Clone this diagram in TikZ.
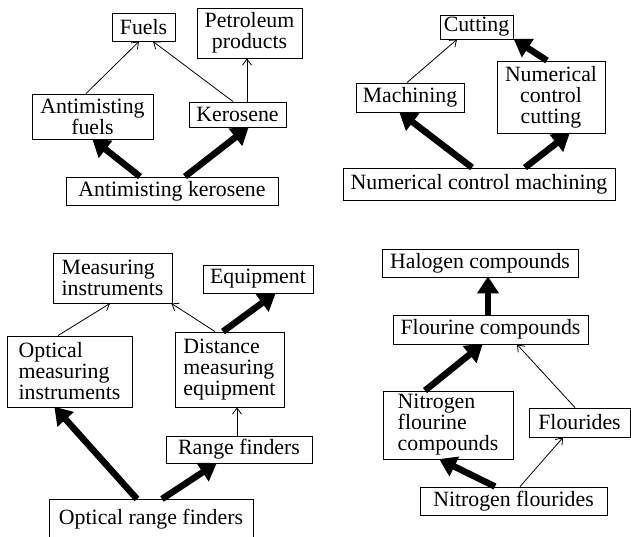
\documentclass[tikz,border=0pt]{standalone}
\usepackage{fontspec}
\setmainfont{Liberation Serif}
\usetikzlibrary{arrows.meta}
\newcommand{\boxfont}{\fontsize{21.8pt}{21pt}\selectfont}
\tikzset{
  box/.style={draw, line width=0.9pt, inner sep=0pt, font=\boxfont},
  thin/.style={line width=0.8pt, -{Straight Barb[length=6pt,width=9pt,line width=0.8pt]}},
  heavy/.style={line width=6.5pt, -{Triangle[length=17pt,width=21pt]}, shorten >=-1pt},
}
\begin{document}
\begin{tikzpicture}[x=1pt,y=-1pt]
\useasboundingbox (0,0) rectangle (631,536);
% Panel 1
\node[box, minimum width=63pt, minimum height=28pt] (fuels) at (143.5,27) {Fuels};
\node[box, minimum width=105pt, minimum height=50pt, align=center] (petro) at (249.5,33) {Petroleum\\products};
\node[box, minimum width=121pt, minimum height=45pt, align=center] (af) at (92.5,116.5) {Antimisting\\fuels};
\node[box, minimum width=97pt, minimum height=25pt] (ker) at (237.5,114.5) {Kerosene};
\node[box, minimum width=212pt, minimum height=28pt] (ak) at (172,191) {Antimisting kerosene};
\draw[thin] ([xshift=-6.5pt]af.north) -- ([xshift=-4.5pt]fuels.south);
\draw[thin] ([xshift=-4.5pt]ker.north) -- ([xshift=9.5pt]fuels.south);
\draw[thin] ([xshift=9.5pt]ker.north) -- ([xshift=-2.5pt]petro.south);
\draw[heavy] ([xshift=-32pt]ak.north) -- ([xshift=0.5pt]af.south);
\draw[heavy] ([xshift=13pt]ak.north) -- ([xshift=10.5pt]ker.south);
% Panel 2
\node[box, minimum width=73pt, minimum height=24pt] (cut) at (476.5,27) {Cutting};
\node[box, minimum width=108pt, minimum height=29pt] (mach) at (410,97.5) {Machining};
\node[box, minimum width=108pt, minimum height=72pt, align=center] (ncc) at (551,97) {Numerical\\control\\cutting};
\node[box, minimum width=272pt, minimum height=32pt] (ncm) at (479,184) {Numerical control machining};
\draw[thin] ([xshift=-3pt]mach.north) -- ([xshift=-19.5pt]cut.south);
\draw[heavy] ([xshift=-4pt]ncc.north) -- ([xshift=1pt]cut.south east);
\draw[heavy] ([xshift=-7pt]ncm.north) -- ([xshift=-10pt]mach.south);
\draw[heavy] ([xshift=46pt]ncm.north) -- ([xshift=18pt]ncc.south);
% Panel 3
\node[box, minimum width=119pt, minimum height=50pt, align=left] (mi) at (112.5,278) {Measuring\\instruments};
\node[box, minimum width=110pt, minimum height=28pt] (eq) at (258,279) {Equipment};
\node[box, minimum width=125pt, minimum height=71pt, align=left] (omi) at (69.5,371.5) {Optical\\measuring\\instruments};
\node[box, minimum width=109pt, minimum height=75pt, align=left] (dme) at (229.5,369.5) {Distance\\measuring\\equipment};
\node[box, minimum width=146pt, minimum height=27pt] (rf) at (239,449.5) {Range finders};
\node[box, minimum width=204pt, minimum height=40pt, anchor=north] (orf) at (151,499) {Optical range finders};
\draw[thin] ([xshift=-11.5pt]omi.north) -- ([xshift=-2.5pt]mi.south);
\draw[thin] ([xshift=-14.5pt]dme.north) -- ([xshift=-1pt]mi.south east);
\draw[heavy] ([xshift=-6.5pt]dme.north) -- ([xshift=17pt]eq.south);
\draw[thin] ([xshift=-2pt]rf.north) -- ([xshift=7.5pt]dme.south);
\draw[heavy] ([xshift=-14pt]orf.north) -- ([xshift=-14.5pt]omi.south);
\draw[heavy] ([xshift=11pt]orf.north) -- ([xshift=-23pt]rf.south);
% Panel 4
\node[box, minimum width=196pt, minimum height=28pt] (hc) at (480,263) {Halogen compounds};
\node[box, minimum width=195pt, minimum height=29pt] (fc) at (490.5,329.5) {Flourine compounds};
\node[box, minimum width=130pt, minimum height=68pt, align=left] (nfc) at (448,425) {Nitrogen\\flourine\\compounds};
\node[box, minimum width=101pt, minimum height=29pt] (fl) at (579.5,422.5) {Flourides};
\node[box, minimum width=187pt, minimum height=28pt] (nf) at (513.5,501) {Nitrogen flourides};
\draw[heavy] ([xshift=-2.5pt]fc.north) -- ([xshift=-2.5pt]fc.north |- hc.south);
\draw[heavy] ([xshift=-23pt]nfc.north) -- ([xshift=-8.5pt]fc.south);
\draw[thin] ([xshift=-4.5pt]fl.north) -- ([xshift=26.5pt]fc.south);
\draw[heavy] ([xshift=-18.5pt]nf.north) -- ([xshift=-8pt]nfc.south);
\draw[thin] ([xshift=6.5pt]nf.north) -- ([xshift=-16.5pt]fl.south);
\end{tikzpicture}
\end{document}
